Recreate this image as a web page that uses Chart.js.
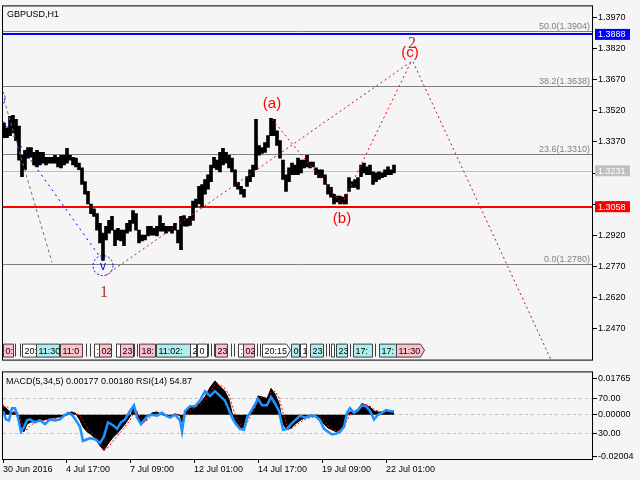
<!DOCTYPE html>
<html>
<head>
<meta charset="utf-8">
<script src="https://cdn.jsdelivr.net/npm/chart.js@4.4.1/dist/chart.umd.min.js"></script>
<style>
  html, body { margin: 0; padding: 0; background: #f5f5f5; }
  #wrap { position: relative; width: 640px; height: 480px; overflow: hidden; }
  canvas { position: absolute; left: 0; }
  #priceChart { top: 0; }
  #indChart { top: 366px; }
</style>
</head>
<body>
<div id="wrap">
  <canvas id="priceChart" width="640" height="366"></canvas>
  <canvas id="indChart" width="640" height="114"></canvas>
</div>
<script>
// ---- price bars (3-hour columns, high / low) ----
const priceHigh = [
  1.3461, 1.3437, 1.3493, 1.3498, 1.3479, 1.3446, 1.3306, 1.3329, 1.3343, 1.3343,
  1.3320, 1.3329, 1.3320, 1.3320, 1.3296, 1.3296, 1.3296, 1.3306, 1.3296, 1.3306,
  1.3306, 1.3339, 1.3306, 1.3296, 1.3292, 1.3268, 1.3245, 1.3179, 1.3132, 1.3071,
  1.3048, 1.3025, 1.2978, 1.2931, 1.2964, 1.2992, 1.3011, 1.2945, 1.2954, 1.2945,
  1.2945, 1.2978, 1.2992, 1.3039, 1.3025, 1.2945, 1.2921, 1.2921, 1.2964, 1.2964,
  1.2954, 1.2964, 1.3015, 1.2978, 1.2964, 1.2964, 1.2964, 1.2978, 1.2945, 1.3011,
  1.3015, 1.3001, 1.3011, 1.3085, 1.3095, 1.3156, 1.3165, 1.3189, 1.3212, 1.3259,
  1.3296, 1.3282, 1.3320, 1.3339, 1.3320, 1.3306, 1.3292, 1.3236, 1.3175, 1.3156,
  1.3142, 1.3203, 1.3236, 1.3259, 1.3479, 1.3353, 1.3343, 1.3367, 1.3400, 1.3484,
  1.3479, 1.3423, 1.3376, 1.3282, 1.3212, 1.3245, 1.3268, 1.3259, 1.3292, 1.3282,
  1.3282, 1.3306, 1.3273, 1.3273, 1.3245, 1.3236, 1.3236, 1.3212, 1.3165, 1.3151,
  1.3118, 1.3109, 1.3109, 1.3104, 1.3118, 1.3198, 1.3179, 1.3189, 1.3198, 1.3259,
  1.3268, 1.3250, 1.3259, 1.3226, 1.3221, 1.3226, 1.3221, 1.3236, 1.3250, 1.3236,
  1.3259
];
const priceLow = [
  1.3390, 1.3390, 1.3400, 1.3414, 1.3376, 1.3282, 1.3203, 1.3236, 1.3292, 1.3296,
  1.3259, 1.3250, 1.3259, 1.3268, 1.3259, 1.3268, 1.3268, 1.3268, 1.3250, 1.3245,
  1.3259, 1.3268, 1.3282, 1.3259, 1.3250, 1.3236, 1.3165, 1.3118, 1.3071, 1.3025,
  1.3011, 1.2945, 1.2884, 1.2799, 1.2898, 1.2931, 1.2945, 1.2870, 1.2898, 1.2893,
  1.2870, 1.2931, 1.2940, 1.2978, 1.2945, 1.2884, 1.2893, 1.2898, 1.2917, 1.2921,
  1.2921, 1.2917, 1.2940, 1.2940, 1.2931, 1.2940, 1.2931, 1.2945, 1.2884, 1.2851,
  1.2964, 1.2964, 1.2968, 1.2992, 1.3057, 1.3071, 1.3057, 1.3118, 1.3142, 1.3179,
  1.3245, 1.3236, 1.3226, 1.3259, 1.3268, 1.3245, 1.3226, 1.3156, 1.3142, 1.3118,
  1.3104, 1.3156, 1.3179, 1.3203, 1.3236, 1.3306, 1.3315, 1.3320, 1.3343, 1.3400,
  1.3400, 1.3353, 1.3292, 1.3189, 1.3132, 1.3179, 1.3212, 1.3212, 1.3212, 1.3221,
  1.3245, 1.3250, 1.3245, 1.3250, 1.3212, 1.3198, 1.3198, 1.3165, 1.3118, 1.3104,
  1.3071, 1.3081, 1.3071, 1.3071, 1.3071, 1.3132, 1.3151, 1.3151, 1.3142, 1.3203,
  1.3221, 1.3212, 1.3212, 1.3165, 1.3179, 1.3189, 1.3198, 1.3203, 1.3212, 1.3212,
  1.3221
];
const hoursPerColumn = 3;

// ---- axes ----
const priceTicks = [1.3970, 1.3820, 1.3670, 1.3520, 1.3370, 1.3220, 1.3070, 1.2920, 1.2770, 1.2620, 1.2470];
const timeTickIdx = [0, 63, 127, 191, 255, 319, 383];
const timeTickLabels = ['30 Jun 2016', '4 Jul 17:00', '7 Jul 09:00', '12 Jul 01:00', '14 Jul 17:00', '19 Jul 09:00', '22 Jul 01:00'];

// ---- levels ----
const fibPercent = ['50.0', '38.2', '23.6', '0.0'];
const fibPrice = [1.3904, 1.3638, 1.3310, 1.2780];
const markPrice = [1.3231, 1.3888, 1.3058]; // bid, blue level, red level

// ---- wave lines ----
const waveOneTwoIdx = [103, 408];
const waveOneTwoPrice = [1.2729, 1.3756];
const waveAbcIdx = [269, 339, 408];
const waveAbcPrice = [1.3479, 1.3071, 1.3756];
const waveProjIdx = [410, 549];
const waveProjPrice = [1.3756, 1.2310];
const oldWaveGrayIdx = [1, 49];
const oldWaveGrayPrice = [1.3573, 1.2790];
const oldWaveBlueIdx = [0, 98];
const oldWaveBluePrice = [1.3470, 1.2809];

const waveLabelText = ['1', '(a)', '(b)', '(c)', '2'];
const waveLabelIdx = [101, 269, 339, 407, 409];
const waveLabelPrice = [1.2645, 1.3554, 1.3001, 1.3798, 1.3845];
const circleText = ['v', ''];
const circleIdx = [100, -8];
const circlePrice = [1.2774, 1.3582];

// ---- session time labels ----
const sessionStart = [0, 19, 33, 57, 91, 96, 113, 117, 136, 153, 187, 194, 212, 235, 240, 259, 288, 297, 307, 328, 333, 350, 376, 393];
const sessionEnd   = [10, 33, 56, 79, 96, 108, 117, 130, 152, 187, 193, 204, 224, 240, 251, 287, 296, 303, 320, 331, 344, 369, 393, 421];
const sessionText  = ['0:', '20:', '11:30', '11:0', ':', '02', '', '23', '18:', '11:02:', '2', '0', '23', ':', '02', '20:15', '0:', '1', '23', ':', '23', '17:', '17:', '11:30'];
const sessionKind  = ['p', 'w', 'c', 'p', 'w', 'p', 'w', 'p', 'p', 'c', 'w', 'w', 'p', 'w', 'p', 'wa', 'c', 'w', 'c', 'w', 'c', 'c', 'c', 'pa'];
const sessionSeps  = [12, 17, 83, 87, 113, 131, 134, 205, 208, 211, 228, 231, 254, 257, 302, 323, 326, 347, 350, 372];

// ---- indicator window ----
const indIdx = [0, 3, 6, 9, 12, 15, 18, 21, 24, 27, 32, 37, 42, 47, 52, 57, 61, 65, 69, 73,
  77, 80, 84, 87, 92, 97, 101, 105, 110, 114, 118, 122, 127, 131, 134, 138, 141, 145, 149, 154,
  159, 163, 167, 172, 177, 179, 182, 187, 192, 197, 202, 207, 212, 217, 222, 226, 229, 233, 237, 241,
  244, 247, 251, 255, 259, 264, 268, 272, 276, 280, 284, 288, 292, 297, 302, 307, 312, 317, 321, 325,
  329, 333, 337, 341, 344, 347, 351, 355, 359, 363, 367, 371, 375, 379, 383, 387, 391];
const macdHist = [
  0.00449, 0.00313, 0.00177, 0.00086, 0.00132, -0.00005, -0.00731, -0.00822, -0.00459, -0.00368,
  -0.00322, -0.00277, -0.00232, -0.00186, -0.00141, -0.00095, -0.00050, 0.00086, 0.00132, 0.00041,
  -0.00277, -0.00595, -0.00822, -0.00913, -0.01140, -0.01503, -0.01730, -0.01412, -0.01094, -0.00913,
  -0.00686, -0.00459, -0.00095, 0.00359, 0.00086, -0.00459, -0.00368, -0.00095, 0.00086, 0.00132,
  -0.00005, -0.00050, -0.00095, 0.00041, -0.00050, -0.00368, 0.00086, 0.00359, 0.00404, 0.00540,
  0.00858, 0.01312, 0.01630, 0.01357, 0.01130, 0.00722, 0.00086, -0.00368, -0.00640, -0.00595,
  -0.00186, 0.00086, 0.00313, 0.00903, 0.00858, 0.00767, 0.01267, 0.00994, 0.00540, -0.00459,
  -0.00731, -0.00640, -0.00459, -0.00277, -0.00141, -0.00095, -0.00095, -0.00141, -0.00459, -0.00640,
  -0.00731, -0.00822, -0.00731, -0.00459, -0.00050, 0.00132, 0.00132, 0.00268, 0.00540, 0.00449,
  0.00359, 0.00177, 0.00132, 0.00086, 0.00177, 0.00177, 0.00177
];
const macdSignal = [
  0.00359, 0.00404, 0.00313, 0.00177, 0.00086, 0.00086, -0.00277, -0.00640, -0.00731, -0.00549,
  -0.00368, -0.00322, -0.00277, -0.00232, -0.00186, -0.00141, -0.00095, -0.00005, 0.00086, 0.00086,
  -0.00050, -0.00277, -0.00595, -0.00822, -0.01003, -0.01321, -0.01639, -0.01594, -0.01276, -0.01049,
  -0.00822, -0.00595, -0.00277, 0.00132, 0.00177, -0.00186, -0.00368, -0.00232, -0.00050, 0.00086,
  0.00086, -0.00005, -0.00050, -0.00005, -0.00005, -0.00186, -0.00095, 0.00177, 0.00359, 0.00449,
  0.00676, 0.01085, 0.01448, 0.01448, 0.01267, 0.00949, 0.00449, -0.00095, -0.00459, -0.00640,
  -0.00413, -0.00095, 0.00177, 0.00631, 0.00858, 0.00813, 0.01085, 0.01130, 0.00813, 0.00086,
  -0.00549, -0.00686, -0.00549, -0.00368, -0.00232, -0.00141, -0.00095, -0.00095, -0.00277, -0.00549,
  -0.00686, -0.00776, -0.00776, -0.00595, -0.00277, -0.00005, 0.00086, 0.00177, 0.00404, 0.00495,
  0.00404, 0.00268, 0.00177, 0.00132, 0.00132, 0.00177, 0.00180
];
const rsiValues = [
  55.4, 45.7, 44.6, 58.7, 58.7, 47.8, 31.5, 37.0, 44.6, 45.7,
  42.4, 44.6, 40.2, 45.7, 44.6, 45.7, 50.0, 53.3, 51.1, 44.6,
  37.0, 20.7, 22.8, 23.9, 22.8, 18.5, 26.1, 42.4, 39.1, 34.8,
  42.4, 45.7, 55.4, 62.0, 47.8, 40.2, 44.6, 50.0, 51.1, 50.0,
  53.3, 50.0, 47.8, 51.1, 44.6, 31.5, 55.4, 60.9, 60.9, 67.4,
  78.3, 72.8, 78.3, 72.8, 67.4, 56.5, 47.8, 40.2, 34.8, 33.7,
  47.8, 53.3, 60.9, 69.6, 62.0, 62.0, 71.7, 64.1, 55.4, 33.7,
  34.8, 40.2, 44.6, 50.0, 47.8, 50.0, 50.0, 44.6, 34.8, 31.5,
  28.3, 29.3, 31.5, 37.0, 53.3, 58.7, 53.3, 56.5, 62.0, 60.9,
  55.4, 45.7, 51.1, 53.3, 56.5, 55.4, 54.87
];
const macdTicks = [0.01765, 0, -0.02004];
const rsiLevels = [70, 30];

// ---------------------------------------------------------------
const FONT = "'Liberation Sans'";
Chart.defaults.font.family = FONT;
Chart.defaults.font.size = 9;
Chart.defaults.color = '#000';

const zip = (xs, ys) => xs.map((x, i) => ({ x: x, y: ys[i] }));
const X_MIN = 0, X_MAX = 589;

function hline(ctx, x1, x2, y) {
  ctx.beginPath(); ctx.moveTo(x1, y); ctx.lineTo(x2, y); ctx.stroke();
}

function axisBox(ctx, a, y, bg, text) {
  ctx.fillStyle = bg;
  ctx.fillRect(a.right + 3, y - 5.5, 35, 11);
  ctx.fillStyle = '#fff';
  ctx.font = '9px ' + FONT;
  ctx.textAlign = 'left';
  ctx.textBaseline = 'middle';
  ctx.fillText(text, a.right + 6, y + 0.5);
}

const sessionFill = { p: '#ffc0cb', w: '#ffffff', c: '#afeeee' };

const priceOverlay = {
  id: 'priceOverlay',
  beforeDatasetsDraw(chart) {
    const { ctx, chartArea: a, scales: { y } } = chart;
    ctx.save();
    ctx.beginPath(); ctx.rect(a.left, a.top, a.right - a.left, a.bottom - a.top); ctx.clip();
    ctx.font = '9px ' + FONT;
    ctx.textAlign = 'right';
    ctx.textBaseline = 'alphabetic';
    fibPrice.forEach((v, i) => {
      const py = Math.round(y.getPixelForValue(v)) + 0.5;
      ctx.strokeStyle = '#808080'; ctx.lineWidth = 1;
      hline(ctx, a.left, a.right, py);
      ctx.fillStyle = '#808080';
      ctx.fillText(fibPercent[i] + '(' + v.toFixed(4) + ')', a.right - 2, py - 2.5);
    });
    // bid line, blue level, red level
    const markStyle = [['#c0c0c0', 1], ['#0000ff', 2], ['#ff0000', 2]];
    markPrice.forEach((v, i) => {
      const py = Math.round(y.getPixelForValue(v)) + (markStyle[i][1] === 1 ? 0.5 : 0);
      ctx.strokeStyle = markStyle[i][0]; ctx.lineWidth = markStyle[i][1];
      hline(ctx, a.left, a.right, py);
    });
    ctx.restore();
  },
  afterDatasetsDraw(chart) {
    const { ctx, chartArea: a, scales: { x, y } } = chart;
    ctx.save();
    ctx.beginPath(); ctx.rect(a.left, a.top, a.right - a.left, a.bottom - a.top); ctx.clip();

    // dashed circles
    circleIdx.forEach((ix, i) => {
      const cx = x.getPixelForValue(ix), cy = y.getPixelForValue(circlePrice[i]);
      ctx.strokeStyle = '#0000ff'; ctx.lineWidth = 1; ctx.setLineDash([2, 2]);
      ctx.beginPath(); ctx.arc(cx, cy, 10, 0, Math.PI * 2); ctx.stroke();
      ctx.setLineDash([]);
      ctx.fillStyle = '#0000ff'; ctx.font = '12px ' + FONT;
      ctx.textAlign = 'center'; ctx.textBaseline = 'middle';
      ctx.fillText(circleText[i], cx, cy + 1);
    });

    // wave labels
    waveLabelText.forEach((t, i) => {
      const digit = /^\d$/.test(t);
      ctx.fillStyle = digit ? '#b03030' : '#ff0000';
      ctx.font = digit ? "16px 'Liberation Serif'" : '15px ' + FONT;
      ctx.textAlign = 'center'; ctx.textBaseline = 'middle';
      ctx.fillText(t, x.getPixelForValue(waveLabelIdx[i]), y.getPixelForValue(waveLabelPrice[i]));
    });

    // session time boxes
    const top = a.bottom - 16, h = 13;
    ctx.font = '9px ' + FONT; ctx.textAlign = 'left'; ctx.textBaseline = 'middle';
    sessionSeps.forEach(ix => {
      const px = Math.round(x.getPixelForValue(ix)) + 0.5;
      ctx.strokeStyle = '#404040'; ctx.lineWidth = 1;
      ctx.beginPath(); ctx.moveTo(px, top); ctx.lineTo(px, top + h); ctx.stroke();
    });
    sessionStart.forEach((s, i) => {
      const x1 = Math.round(x.getPixelForValue(s)) + 0.5;
      const x2 = Math.round(x.getPixelForValue(sessionEnd[i])) + 0.5;
      const kind = sessionKind[i];
      const arrow = kind.length > 1;
      ctx.beginPath();
      ctx.moveTo(x1, top + 0.5);
      ctx.lineTo(arrow ? x2 - 4 : x2, top + 0.5);
      if (arrow) ctx.lineTo(x2, top + h / 2);
      ctx.lineTo(arrow ? x2 - 4 : x2, top + h + 0.5);
      ctx.lineTo(x1, top + h + 0.5);
      ctx.closePath();
      ctx.fillStyle = sessionFill[kind[0]];
      ctx.fill();
      ctx.strokeStyle = '#404040'; ctx.stroke();
      ctx.save();
      ctx.beginPath(); ctx.rect(x1 + 1, top, x2 - x1 - 1, h); ctx.clip();
      ctx.fillStyle = '#000';
      ctx.fillText(sessionText[i], x1 + 2, top + h / 2 + 1);
      ctx.restore();
    });
    ctx.restore();
  },
  afterDraw(chart) {
    const { ctx, chartArea: a, scales: { y } } = chart;
    ctx.save();
    ctx.strokeStyle = '#000'; ctx.lineWidth = 1;
    ctx.strokeRect(a.left - 0.5, a.top - 0.5, a.right - a.left + 1, a.bottom - a.top + 1);
    const boxColor = ['#c0c0c0', '#0000ff', '#ff0000'];
    markPrice.forEach((v, i) => axisBox(ctx, a, y.getPixelForValue(v), boxColor[i], v.toFixed(4)));
    ctx.fillStyle = '#000'; ctx.font = '9px ' + FONT;
    ctx.textAlign = 'left'; ctx.textBaseline = 'alphabetic';
    ctx.fillText('GBPUSD,H1', a.left + 4, a.top + 11);
    ctx.restore();
  }
};

const dotted = (color, data, dash) => ({
  type: 'line', data: data, borderColor: color, borderWidth: 1,
  borderDash: dash, pointRadius: 0, fill: false, tension: 0
});

new Chart(document.getElementById('priceChart'), {
  type: 'bar',
  data: {
    datasets: [
      dotted('#b22222', zip(waveOneTwoIdx, waveOneTwoPrice), [2, 3]),
      dotted('#ff0000', zip(waveAbcIdx, waveAbcPrice), [2, 3]),
      dotted('#b22222', zip(waveProjIdx, waveProjPrice), [2, 3]),
      dotted('#707070', zip(oldWaveGrayIdx, oldWaveGrayPrice), [3, 3]),
      dotted('#0000ff', zip(oldWaveBlueIdx, oldWaveBluePrice), [2, 4]),
      {
        type: 'bar',
        data: priceHigh.map((h, k) => ({ x: 1 + hoursPerColumn * k, y: [priceLow[k], h] })),
        backgroundColor: '#000',
        borderWidth: 0,
        barThickness: 3,
        grouped: false
      }
    ]
  },
  options: {
    responsive: false,
    devicePixelRatio: 1,
    animation: false,
    events: [],
    layout: { padding: { left: 3, top: 2, right: 0, bottom: 1 } },
    plugins: { legend: { display: false }, tooltip: { enabled: false } },
    scales: {
      x: { type: 'linear', min: X_MIN, max: X_MAX, offset: false, grid: { offset: false }, display: false },
      y: {
        position: 'right',
        min: 1.23214,
        max: 1.40229,
        afterBuildTicks: (s) => { s.ticks = priceTicks.map(v => ({ value: v })); },
        afterFit: (s) => { s.width = 48; },
        ticks: { callback: (v) => v.toFixed(4), padding: 1, color: '#000', font: { size: 9 } },
        grid: { drawOnChartArea: false, tickLength: 5, color: '#000' },
        border: { display: false }
      }
    }
  },
  plugins: [priceOverlay]
});

// ---------------- indicator window ----------------
const indOverlay = {
  id: 'indOverlay',
  beforeDatasetsDraw(chart) {
    const { ctx, chartArea: a, scales } = chart;
    ctx.save();
    ctx.strokeStyle = '#c0c0c0'; ctx.lineWidth = 1; ctx.setLineDash([3, 3]);
    rsiLevels.forEach(v => hline(ctx, a.left, a.right, Math.round(scales.yRsi.getPixelForValue(v)) + 0.5));
    hline(ctx, a.left, a.right, Math.round(scales.yMacd.getPixelForValue(0)) - 0.5);
    ctx.restore();
  },
  afterDraw(chart) {
    const { ctx, chartArea: a, scales } = chart;
    ctx.save();
    ctx.strokeStyle = '#000'; ctx.lineWidth = 1;
    ctx.strokeRect(a.left - 0.5, a.top - 0.5, a.right - a.left + 1, a.bottom - a.top + 1);
    ctx.font = '9px ' + FONT; ctx.fillStyle = '#000';
    rsiLevels.forEach(v => {
      const py = Math.round(scales.yRsi.getPixelForValue(v)) + 0.5;
      hline(ctx, a.right, a.right + 5, py);
      ctx.textAlign = 'left'; ctx.textBaseline = 'middle';
      ctx.fillText(v.toFixed(2), a.right + 6, py);
    });
    const n = macdHist.length - 1;
    ctx.textAlign = 'left'; ctx.textBaseline = 'alphabetic';
    ctx.fillText('MACD(5,34,5) ' + macdHist[n].toFixed(5) + ' ' + macdSignal[n].toFixed(5) +
      ' RSI(14) ' + rsiValues[n].toFixed(2), a.left + 3, a.top + 12);
    ctx.restore();
  }
};

new Chart(document.getElementById('indChart'), {
  type: 'line',
  data: {
    datasets: [
      {
        data: zip(indIdx, rsiValues), yAxisID: 'yRsi',
        borderColor: '#1e90ff', borderWidth: 2.5, pointRadius: 0, tension: 0, fill: false
      },
      {
        data: zip(indIdx, macdSignal), yAxisID: 'yMacd',
        borderColor: '#ff0000', borderWidth: 1, borderDash: [2, 2], pointRadius: 0, tension: 0, fill: false
      },
      {
        data: zip(indIdx, macdHist), yAxisID: 'yMacd',
        borderColor: '#000', backgroundColor: '#000', borderWidth: 1, pointRadius: 0, tension: 0,
        fill: 'origin'
      }
    ]
  },
  options: {
    responsive: false,
    devicePixelRatio: 1,
    animation: false,
    events: [],
    layout: { padding: { left: 3, top: 1, right: 0, bottom: 0 } },
    plugins: { legend: { display: false }, tooltip: { enabled: false } },
    scales: {
      x: {
        type: 'linear', min: X_MIN, max: X_MAX, offset: false,
        afterBuildTicks: (s) => { s.ticks = timeTickIdx.map(v => ({ value: v })); },
        afterFit: (s) => { s.height = 21; },
        ticks: {
          autoSkip: false, maxRotation: 0, align: 'start', padding: 1,
          color: '#000', font: { size: 9 },
          callback: (v) => timeTickLabels[timeTickIdx.indexOf(v)]
        },
        grid: { drawOnChartArea: false, tickLength: 4, color: '#000' },
        border: { display: false }
      },
      yMacd: {
        position: 'right', min: -0.0214, max: 0.0204,
        afterBuildTicks: (s) => { s.ticks = macdTicks.map(v => ({ value: v })); },
        afterFit: (s) => { s.width = 48; },
        ticks: { callback: (v) => v.toFixed(5), padding: 1, color: '#000', font: { size: 9 } },
        grid: { drawOnChartArea: false, tickLength: 5, color: '#000' },
        border: { display: false }
      },
      yRsi: { display: false, min: 0, max: 100 }
    }
  },
  plugins: [indOverlay]
});
</script>
</body>
</html>
